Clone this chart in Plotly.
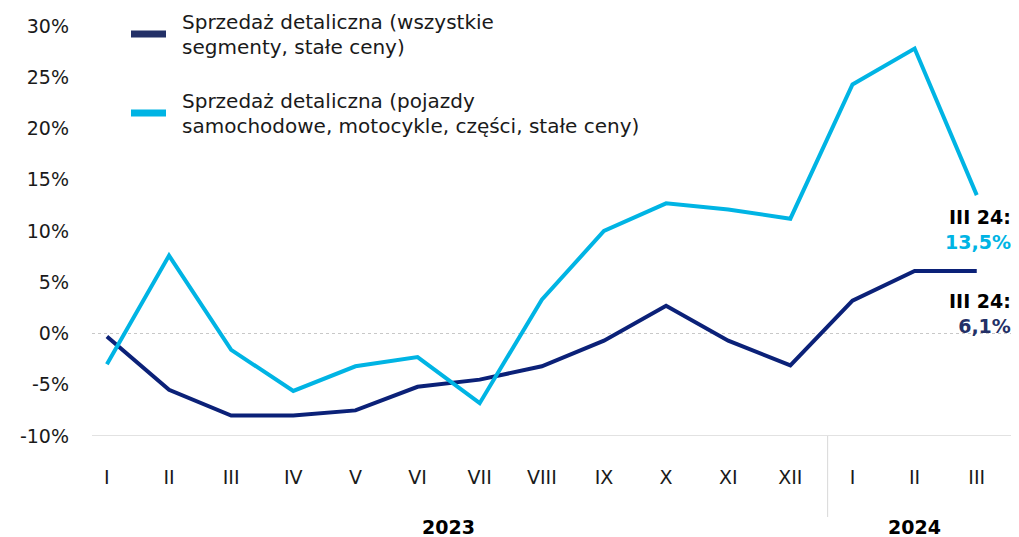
import plotly.graph_objects as go

months = ["I", "II", "III", "IV", "V", "VI", "VII", "VIII", "IX", "X", "XI", "XII", "I", "II", "III"]
total_sales = [-0.3, -5.5, -8.0, -8.0, -7.5, -5.2, -4.5, -3.2, -0.7, 2.7, -0.7, -3.1, 3.2, 6.1, 6.1]
auto_sales = [-3.0, 7.6, -1.6, -5.6, -3.2, -2.3, -6.8, 3.3, 10.0, 12.7, 12.1, 11.2, 24.3, 27.8, 13.5]
y_ticks = [-10, -5, 0, 5, 10, 15, 20, 25, 30]
y_tick_labels = [f"{v}%" for v in y_ticks]
years = ["2023", "2024"]
name_total = ["Sprzedaż detaliczna (wszystkie", "segmenty, stałe ceny)"]
name_auto = ["Sprzedaż detaliczna (pojazdy", "samochodowe, motocykle, części, stałe ceny)"]

DARK = "#0b2178"
DARK_LEG = "#233067"
LIGHT = "#00b4e4"
FONT = "DejaVu Sans"

# page body has an 8px margin -> work in figure coords (page - 8)
OFF = 8
W, H = 1019 - OFF, 537 - OFF
PL, PT, PB = 92 - OFF, 26 - OFF, 436 - OFF   # plot left/top/bottom in figure px
PW, PH = W - PL, PB - PT


def px(xp):
    return (xp - OFF - PL) / PW


def py(yp):
    return (PB - (yp - OFF)) / PH


x = list(range(len(months)))

fig = go.Figure()
fig.add_trace(go.Scatter(x=x, y=total_sales, mode="lines", name=" ".join(name_total),
                         line=dict(color=DARK, width=4), showlegend=False))
fig.add_trace(go.Scatter(x=x, y=auto_sales, mode="lines", name=" ".join(name_auto),
                         line=dict(color=LIGHT, width=4), showlegend=False))

fig.add_shape(type="line", xref="paper", yref="y", x0=0, x1=1.02, y0=0, y1=0,
              line=dict(color="#c8c8c8", width=1, dash="dot"), layer="below")
fig.add_shape(type="line", xref="paper", yref="y", x0=0, x1=1.02, y0=-10, y1=-10,
              line=dict(color="#d9d9d9", width=1.5), layer="below")
fig.add_shape(type="line", xref="x", yref="paper", x0=11.6, x1=11.6, y0=0, y1=py(517),
              line=dict(color="#d9d9d9", width=1))

fig.add_annotation(x=5.5, y=py(527), xref="x", yref="paper", text=f"<b>{years[0]}</b>",
                   showarrow=False, font=dict(family=FONT, size=19, color="#000"), yanchor="middle")
fig.add_annotation(x=13, y=py(527), xref="x", yref="paper", text=f"<b>{years[1]}</b>",
                   showarrow=False, font=dict(family=FONT, size=19, color="#000"), yanchor="middle")

fig.add_annotation(x=1.0, y=py(204), xref="paper", yref="paper",
                   text=f"<b>III 24:</b><br><b><span style='color:{LIGHT}'>{auto_sales[-1]:.1f}%</span></b>".replace(".", ","),
                   showarrow=False, xanchor="right", yanchor="top", align="right", xshift=-6,
                   font=dict(family=FONT, size=19, color="#000"))
fig.add_annotation(x=1.0, y=py(288), xref="paper", yref="paper",
                   text=f"<b>III 24:</b><br><b><span style='color:{DARK_LEG}'>{total_sales[-1]:.1f}%</span></b>".replace(".", ","),
                   showarrow=False, xanchor="right", yanchor="top", align="right", xshift=-6,
                   font=dict(family=FONT, size=19, color="#000"))

for yy, col, lines, ys in [(34, DARK_LEG, name_total, (22, 47)), (113, LIGHT, name_auto, (101, 126))]:
    fig.add_shape(type="line", xref="paper", yref="paper",
                  x0=px(131), x1=px(166), y0=py(yy), y1=py(yy),
                  line=dict(color=col, width=7))
    for t, yl in zip(lines, ys):
        fig.add_annotation(x=px(180), y=py(yl), xref="paper", yref="paper",
                           text=t, showarrow=False, xanchor="left", yanchor="middle", align="left",
                           font=dict(family=FONT, size=20, color="#1a1a1a"))

fig.update_layout(
    width=W, height=H,
    margin=dict(l=PL, r=0, t=PT, b=H - PB),
    paper_bgcolor="white", plot_bgcolor="white",
    font=dict(family=FONT, size=19, color="#1a1a1a"),
    xaxis=dict(range=[-0.24, 14.68], tickvals=x, ticktext=months, showgrid=False,
               zeroline=False, showline=False, ticks="", ticklabelstandoff=28,
               tickfont=dict(size=19)),
    yaxis=dict(range=[-10, 30], tickvals=y_ticks, ticktext=y_tick_labels, showgrid=False,
               zeroline=False, showline=False, ticks="", ticklabelstandoff=22,
               tickfont=dict(size=19)),
)

fig.write_html("out.html")
